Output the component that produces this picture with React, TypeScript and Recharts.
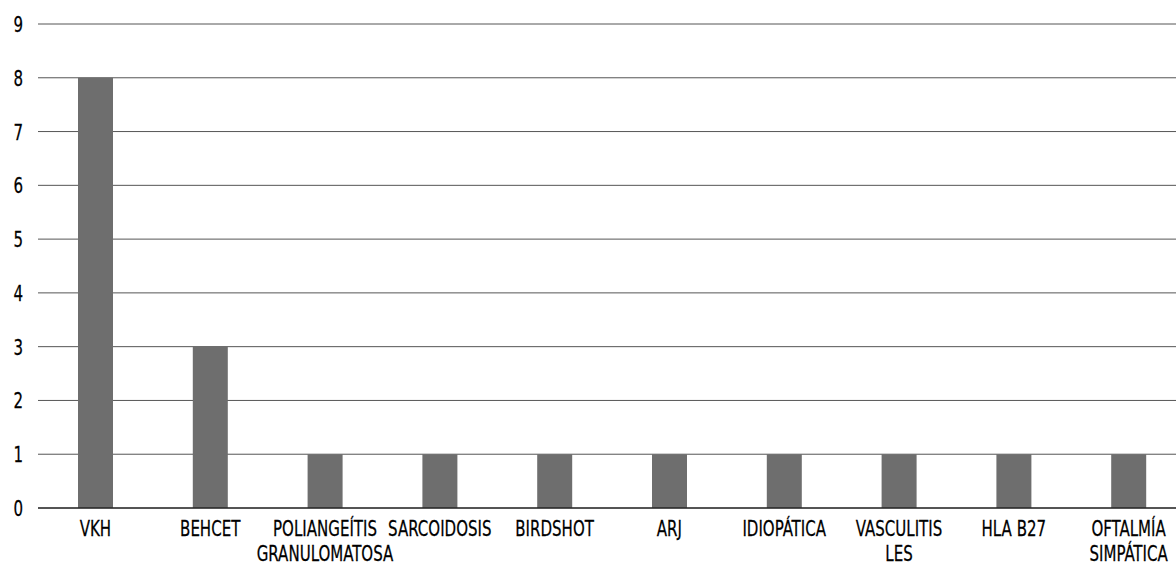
import React from "react";
import { BarChart, Bar, XAxis, YAxis, CartesianGrid } from "recharts";

const categories = [
  "VKH",
  "BEHCET",
  "POLIANGEÍTIS\nGRANULOMATOSA",
  "SARCOIDOSIS",
  "BIRDSHOT",
  "ARJ",
  "IDIOPÁTICA",
  "VASCULITIS\nLES",
  "HLA B27",
  "OFTALMÍA\nSIMPÁTICA",
];
const values = [8, 3, 1, 1, 1, 1, 1, 1, 1, 1];
const yTicks = [0, 1, 2, 3, 4, 5, 6, 7, 8, 9];

const data = categories.map((c, i) => ({ name: c, value: values[i] }));

const FONT = "'DejaVu Sans Condensed', 'Liberation Sans Narrow', sans-serif";
const SX = 0.76;

const XTick = (props: any) => {
  const { x, y, payload } = props;
  const lines = String(payload.value).split("\n");
  return (
    <g transform={`translate(${x},${y}) scale(${SX},1)`}>
      <text x={0} y={0} textAnchor="middle" fill="#000" stroke="#000" strokeWidth={0.25} fontFamily={FONT} fontSize={22}>
        {lines.map((l: string, i: number) => (
          <tspan key={i} x={0} dy={i === 0 ? 20 : 25}>
            {l}
          </tspan>
        ))}
      </text>
    </g>
  );
};

const YTick = (props: any) => {
  const { x, y, payload } = props;
  return (
    <g transform={`translate(${x + 1},${y}) scale(${SX},1)`}>
      <text x={0} y={8} textAnchor="end" fill="#000" stroke="#000" strokeWidth={0.25} fontFamily={FONT} fontSize={22}>
        {payload.value}
      </text>
    </g>
  );
};

export default function App() {
  return (
    <div style={{ position: "absolute", left: 0, top: 0, width: 1176, height: 567, overflow: "hidden", background: "#fff" }}>
      <BarChart
        width={1200}
        height={567}
        data={data}
        margin={{ top: 24, right: 14, left: 0, bottom: 9 }}
      >
        <CartesianGrid vertical={false} stroke="#555555" strokeWidth={1} />
        <XAxis
          dataKey="name"
          interval={0}
          tickLine={false}
          axisLine={{ stroke: "#000" }}
          height={50}
          tick={<XTick />}
          tickMargin={2}
        />
        <YAxis
          width={38}
          domain={[0, 9]}
          ticks={yTicks}
          interval={0}
          axisLine={false}
          tickLine={false}
          tickSize={6}
          tickMargin={10}
          tick={<YTick />}
        />
        <Bar dataKey="value" fill="#6e6e6e" barSize={35} isAnimationActive={false} />
      </BarChart>
    </div>
  );
}
